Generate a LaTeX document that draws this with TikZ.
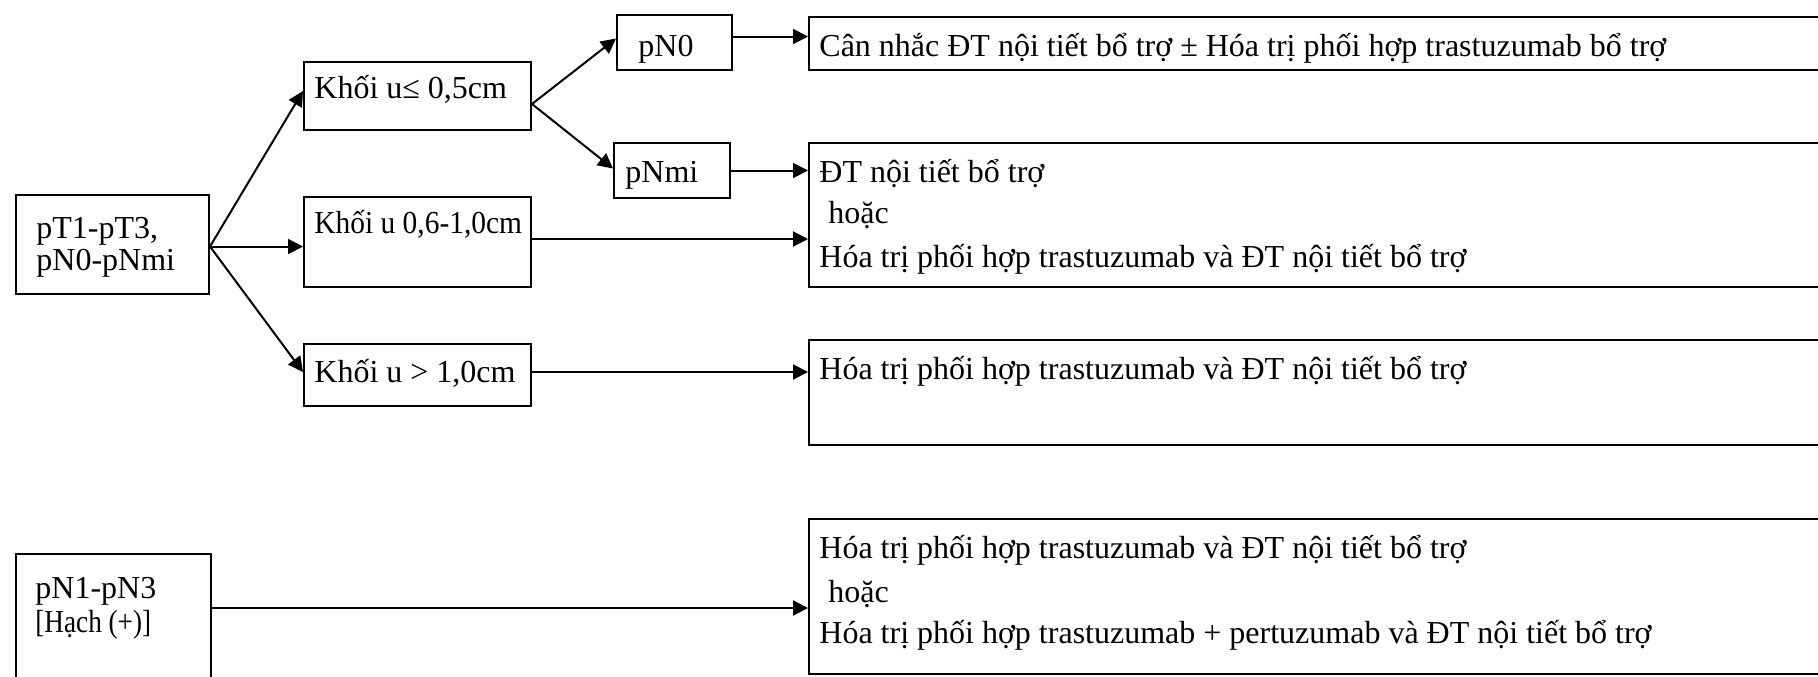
\documentclass[tikz,border=0pt]{standalone}
\usepackage{fontspec}
\setmainfont{Liberation Serif}
\usetikzlibrary{arrows.meta}
\tikzset{
  box/.style={draw, line width=1pt, rectangle, inner sep=0pt, anchor=north west},
  arr/.style={line width=1pt, -{Triangle[length=7.5pt,width=7.5pt]}},
  txt/.style={anchor=base west, inner sep=0pt, font=\fontsize{16}{19}\selectfont},
}
\newcommand{\narrow}[2]{\scalebox{#1}[1]{#2}}
\begin{document}
\begin{tikzpicture}[x=0.5pt,y=-0.5pt]
\useasboundingbox (0,0) rectangle (1818,676);
\clip (0,0) rectangle (1818,676);
% boxes
\node[box, minimum width=96.5pt, minimum height=49.5pt] (pT) at (15,194) {};
\node[box, minimum width=97.5pt, minimum height=70pt] (pN1) at (15,553) {};
\node[box, minimum width=113.5pt, minimum height=34pt] (k1) at (303,61) {};
\node[box, minimum width=113.5pt, minimum height=45pt] (k2) at (303,196) {};
\node[box, minimum width=113.5pt, minimum height=31pt] (k3) at (303,343) {};
\node[box, minimum width=57.5pt, minimum height=27.5pt] (pN0) at (616,14) {};
\node[box, minimum width=58pt, minimum height=27.5pt] (pNmi) at (613,142) {};
\node[box, minimum width=520pt, minimum height=26.5pt] (r1) at (808,16) {};
\node[box, minimum width=520pt, minimum height=72pt] (r2) at (808,142) {};
\node[box, minimum width=520pt, minimum height=52.5pt] (r3) at (808,339) {};
\node[box, minimum width=520pt, minimum height=77.5pt] (r4) at (808,518) {};
% texts
\node[txt] (tpT1) at (36,238) {pT1-pT3,};
\node[txt] (tpT2) at (36,270) {pN0-pNmi};
\node[txt] (tpN1) at (35,598) {pN1-pN3};
\node[txt] (tpN2) at (35,632) {\narrow{0.85}{[Hạch (+)]}};
\node[txt] (tk1) at (314,98) {Khối u≤ 0,5cm};
\node[txt] (tk2) at (314,233) {\narrow{0.92}{Khối u 0,6-1,0cm}};
\node[txt] (tk3) at (314,382) {Khối u > 1,0cm};
\node[txt] (tpN0) at (638,56) {pN0};
\node[txt] (tpNmi) at (625,182) {pNmi};
\node[txt] (tr1) at (819,56) {Cân nhắc ĐT nội tiết bổ trợ ± Hóa trị phối hợp trastuzumab bổ trợ};
\node[txt] (tr2a) at (819,182) {ĐT nội tiết bổ trợ};
\node[txt] (tr2b) at (828,223) {hoặc};
\node[txt] (tr2c) at (819,267) {Hóa trị phối hợp trastuzumab và ĐT nội tiết bổ trợ};
\node[txt] (tr3) at (819,379) {Hóa trị phối hợp trastuzumab và ĐT nội tiết bổ trợ};
\node[txt] (tr4a) at (819,558) {Hóa trị phối hợp trastuzumab và ĐT nội tiết bổ trợ};
\node[txt] (tr4b) at (828,602) {hoặc};
\node[txt] (tr4c) at (819,643) {Hóa trị phối hợp trastuzumab + pertuzumab và ĐT nội tiết bổ trợ};
% connectors
\coordinate (b1) at ([yshift=-1pt]pT.east);
\draw[arr] (b1) -- ([yshift=2.5pt]k1.west);
\draw[arr] (b1) -- (b1 -| k2.west);
\draw[arr] (b1) -- ([yshift=1.5pt]k3.west);
\coordinate (b2) at ([yshift=-4pt]k1.east);
\draw[arr] (b2) -- ([yshift=2pt]pN0.west);
\draw[arr] (b2) -- ([yshift=1pt]pNmi.west);
\draw[arr] ([yshift=3pt]pN0.east) -- ([yshift=3pt]pN0.east -| r1.west);
\draw[arr] (pNmi.east) -- (pNmi.east -| r2.west);
\draw[arr] ([yshift=1.5pt]k2.east) -- ([yshift=1.5pt]k2.east -| r2.west);
\draw[arr] ([yshift=1.5pt]k3.east) -- ([yshift=1.5pt]k3.east -| r3.west);
\coordinate (b3) at ([yshift=-27.5pt]pN1.north east);
\draw[arr] (b3) -- (b3 -| r4.west);
\end{tikzpicture}
\end{document}
